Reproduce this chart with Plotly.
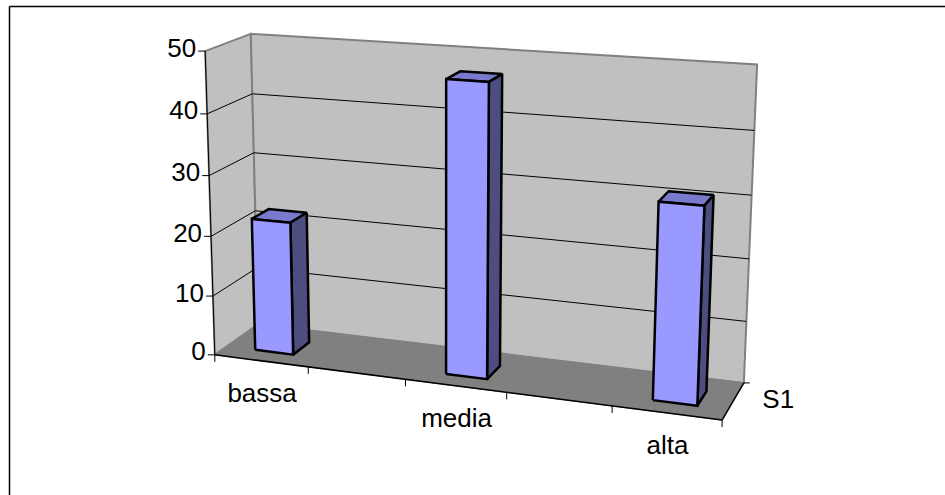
import numpy as np
import plotly.graph_objects as go

# Chart data: five category slots, only three of them filled
categories = ["bassa", "", "media", "", "alta"]
values = [22.2, None, 47.2, None, 31]
z_ticks = [0, 10, 20, 30, 40, 50]
series_name = "S1"

# Colours
WALL = "#C0C0C0"
FLOOR = "#808080"
EDGE = "#808080"
FRONT = "#9999FF"
SIDE = "#4D4D80"
TOP = "#7A7ACC"

BAR_X0, BAR_X1 = 0.31, 0.72
BAR_D0, BAR_D1 = 0.27, 0.66
FONT = dict(family="Liberation Sans, Arial, sans-serif", size=26, color="black")

# Perspective camera, solved from where the plot box corners sit on the page
n = len(categories)
top = z_ticks[-1]
box = [
    ((0, 0, top), (204, 51)), ((0, 1, top), (252, 34)), ((n, 1, top), (757, 64.5)),
    ((0, 0, 0), (216, 355)), ((n, 0, 0), (722, 420)), ((n, 1, 0), (744, 383)),
    ((0, 1, 0), (257, 324)),
]
rows, rhs = [], []
for (x, d, z), (u, v) in box:
    rows.append([x, d, z, 1, 0, 0, 0, 0, -u * x, -u * d, -u * z])
    rhs.append(u)
    rows.append([0, 0, 0, 0, x, d, z, 1, -v * x, -v * d, -v * z])
    rhs.append(v)
cam = np.linalg.lstsq(np.array(rows, float), np.array(rhs, float), rcond=None)[0]


def project(x, d, z):
    w = cam[8] * x + cam[9] * d + cam[10] * z + 1
    return ((cam[0] * x + cam[1] * d + cam[2] * z + cam[3]) / w,
            (cam[4] * x + cam[5] * d + cam[6] * z + cam[7]) / w)


fig = go.Figure()


def face(points, fill, line="black", width=2.5):
    xy = [project(*p) for p in points]
    xy.append(xy[0])
    fig.add_trace(go.Scatter(x=[p[0] for p in xy], y=[p[1] for p in xy], mode="lines",
                             fill="toself", fillcolor=fill,
                             line=dict(color=line, width=width), hoverinfo="skip"))


def segment(a, b, color="black", width=1, pa=(0, 0), pb=(0, 0)):
    ua, va = project(*a)
    ub, vb = project(*b)
    fig.add_trace(go.Scatter(x=[ua + pa[0], ub + pb[0]], y=[va + pa[1], vb + pb[1]], mode="lines",
                             line=dict(color=color, width=width), hoverinfo="skip"))


def label(text, x, y, position, font=FONT):
    fig.add_trace(go.Scatter(x=[x], y=[y], mode="text", text=[text], textposition=position,
                             textfont=font, hoverinfo="skip"))


# Walls and floor
face([(0, 0, 0), (0, 1, 0), (0, 1, top), (0, 0, top)], WALL, EDGE, 2)
face([(0, 1, 0), (n, 1, 0), (n, 1, top), (0, 1, top)], WALL, EDGE, 2)
face([(0, 0, 0), (n, 0, 0), (n, 1, 0), (0, 1, 0)], FLOOR, FLOOR, 1)

# Gridlines along the left and back walls
for z in z_ticks[1:-1]:
    segment((0, 0, z), (0, 1, z))
    segment((0, 1, z), (n, 1, z))

# Axes and their tick marks
segment((0, 0, 0), (0, 0, top))
segment((0, 0, 0), (n, 0, 0), width=1.5)
segment((n, 0, 0), (n, 1, 0), width=1.5)
for z in z_ticks:
    segment((0, 0, z), (0, 0, z), pa=(-7, 0))
    u, v = project(0, 0, z)
    label(str(z), u - 9, v - 1, "middle left")
for i in range(n + 1):
    segment((i, 0, 0), (i, 0, 0), pb=(0, 7))
segment((n, 1, 0), (n, 1, 0), pb=(6, 0))

# Bars
for i, value in enumerate(values):
    if value is None:
        continue
    x0, x1 = i + BAR_X0, i + BAR_X1
    face([(x0, BAR_D0, value), (x0, BAR_D1, value), (x1, BAR_D1, value), (x1, BAR_D0, value)], TOP)
    face([(x1, BAR_D0, 0), (x1, BAR_D1, 0), (x1, BAR_D1, value), (x1, BAR_D0, value)], SIDE)
    face([(x0, BAR_D0, 0), (x1, BAR_D0, 0), (x1, BAR_D0, value), (x0, BAR_D0, value)], FRONT)

# Category and series labels
for i, name in enumerate(categories):
    if name:
        u, v = project(i + 0.5, 0, 0)
        label(name, u + 1, v + 35, "middle center")
u, v = project(n, 0.5, 0)
label(series_name, u + 45, v, "middle center")

# Chart frame: only its top and left sides fall inside the page
FRAME_LEFT, FRAME_TOP = 9.5, 6.5
fig.update_layout(
    width=945, height=495, margin=dict(l=0, r=0, t=0, b=0),
    paper_bgcolor="white", plot_bgcolor="white", showlegend=False,
    xaxis=dict(range=[0, 945], visible=False, fixedrange=True),
    yaxis=dict(range=[495, 0], visible=False, fixedrange=True),
    shapes=[
        dict(type="line", xref="x", yref="y", x0=FRAME_LEFT, x1=945, y0=FRAME_TOP, y1=FRAME_TOP,
             line=dict(color="black", width=1.5)),
        dict(type="line", xref="x", yref="y", x0=FRAME_LEFT, x1=FRAME_LEFT, y0=FRAME_TOP, y1=495,
             line=dict(color="black", width=1.5)),
    ],
)
fig.write_html("out.html", config=dict(displayModeBar=False))
